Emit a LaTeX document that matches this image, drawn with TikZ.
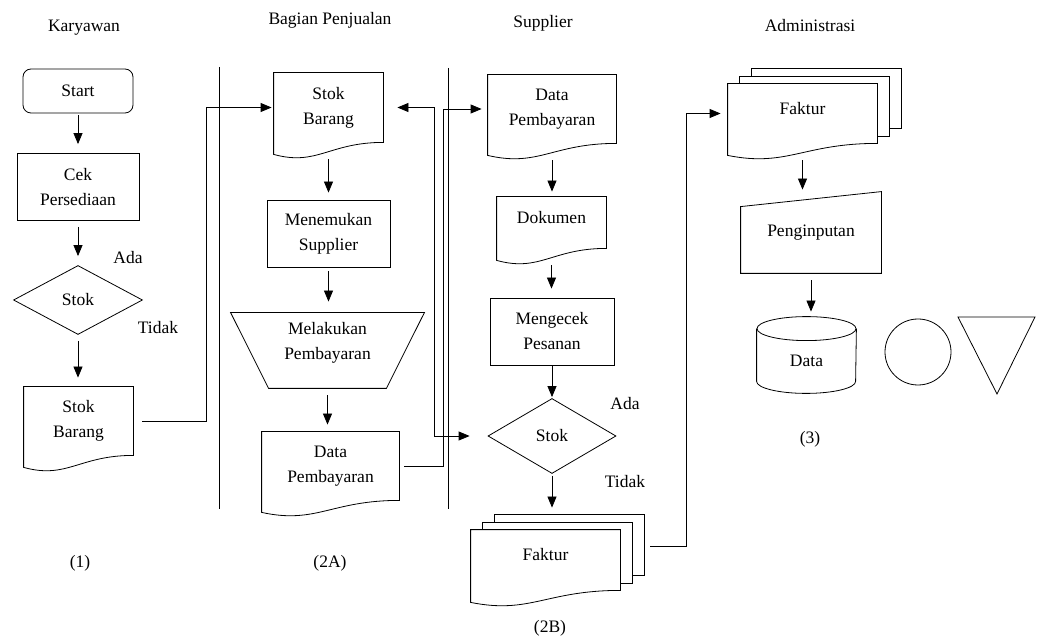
\documentclass[tikz,border=0pt]{standalone}
\usepackage{fontspec}
\setmainfont{Liberation Serif}
\usetikzlibrary{shapes.geometric, arrows.meta}

\tikzset{
	box/.style = {draw, rectangle, align=center, inner sep=0pt},
	docnode/.style = {rectangle, align=center, inner sep=0pt},
	decide/.style = {draw, diamond, inner sep=0pt},
	flow/.style = {->, shorten <=6pt, shorten >=9pt},
	fromdoc/.style = {shorten <=17pt}
}

% wavy sheet round node #1 of width #2
\newcommand{\docsheet}[2]{%
	\draw (#1.south east) .. controls +(-0.5*#2,0) and +(0.4*#2,-12) .. ([yshift=-12pt]#1.south west) -- (#1.north west) -- (#1.north east) -- cycle;}
% two more sheets behind node #1
\newcommand{\moresheets}[1]{%
	\draw ([xshift=12pt]#1.north west) |- ([shift={(12pt,7pt)}]#1.north east) |- ([yshift=7pt]#1.south east);
	\draw ([shift={(24pt,7pt)}]#1.north west) |- ([shift={(24pt,15pt)}]#1.north east) |- ([shift={(12pt,15pt)}]#1.south east);}

\begin{document}
\begin{tikzpicture}[x=1pt, y=1pt, line width=0.8pt, >={Triangle[width=9pt,length=11pt]}, font=\fontsize{17.5}{25}\selectfont]
	\useasboundingbox (0,0) rectangle (1037,638);
% lane titles
	\node (tKar) at (84,610) {Karyawan};
	\node (tBag) at (330,618) {Bagian Penjualan};
	\node (tSup) at (543,615) {Supplier};
	\node (tAdm) at (810,612) {Administrasi};
% lane lines
	\draw (219,571) -- (219,129);
	\draw (448,570) -- (448,129);

% Karyawan
	\node[box, rounded corners=8pt, minimum width=110pt, minimum height=44pt] (start) at (78,547) {Start};
	\node[box, minimum width=122pt, minimum height=67pt] (cek) at (78,451) {Cek\\Persediaan};
	\node[decide, minimum width=129pt, minimum height=69pt] (stok1) at (78,338) {Stok};
	\node (ada1) at (128,380) {Ada};
	\node (tidak1) at (158,310) {Tidak};
	\node[docnode, minimum width=109pt, minimum height=68pt] (barang1) at (78.5,217) {Stok\\Barang};
	\docsheet{barang1}{109}
	\node (lbl1) at (80,75) {(1)};

	\draw[flow, shorten <=2pt] (start.south) -- (start.south |- cek.north);
	\draw[flow] (cek.south) -- (cek.south |- stok1.north);
	\draw[flow] (stok1.south) -- (stok1.south |- barang1.north);

% Bagian Penjualan
	\node[docnode, minimum width=109pt, minimum height=69pt] (barang2) at (328.5,530.5) {Stok\\Barang};
	\docsheet{barang2}{109}
	\node[box, minimum width=123pt, minimum height=67pt] (cari) at (328.5,404.5) {Menemukan\\Supplier};
	\node[docnode, minimum width=193pt, minimum height=75pt, text depth=19pt] (bayar) at (327.5,287.5) {Melakukan\\Pembayaran};
	\draw (bayar.north west) -- (bayar.north east) -- ([xshift=-38pt]bayar.south east) -- ([xshift=38pt]bayar.south west) -- cycle;
	\node[docnode, minimum width=137pt, minimum height=68pt] (bayar2a) at (330.5,172) {Data\\Pembayaran};
	\docsheet{bayar2a}{137}
	\node (lbl2a) at (330,75) {(2A)};

	\draw[flow, fromdoc, shorten >=7pt] (barang2.south) -- (barang2.south |- cari.north);
	\draw[flow, shorten <=4pt, shorten >=11pt] (cari.south) -- (cari.south |- bayar.north);
	\draw[flow, shorten <=7pt, shorten >=7pt] (bayar.south) -- (bayar.south |- bayar2a.north);

% Supplier
	\node[docnode, minimum width=128pt, minimum height=68pt] (bayar2b) at (552,529) {Data\\Pembayaran};
	\docsheet{bayar2b}{128}
	\node[docnode, minimum width=109pt, minimum height=51pt, text depth=11pt] (dok) at (551.5,415.5) {Dokumen};
	\docsheet{dok}{109}
	\node[box, minimum width=124pt, minimum height=67pt] (cek2) at (552,306.5) {Mengecek\\Pesanan};
	\node[decide, minimum width=128pt, minimum height=75pt] (stok2) at (552,202) {Stok};
	\node (ada2) at (625,234) {Ada};
	\node (tidak2) at (625,156) {Tidak};
	\node[docnode, minimum width=149pt, minimum height=60pt, text depth=11pt] (faktur2) at (545.5,78) {Faktur};
	\docsheet{faktur2}{149}
	\moresheets{faktur2}
	\node (lbl2b) at (550,10) {(2B)};

	\draw[flow, fromdoc, shorten >=5pt] (bayar2b.south) -- (bayar2b.south |- dok.north);
	\draw[flow, fromdoc] (dok.south) -- (dok.south |- cek2.north);
	\draw[flow, shorten <=0pt, shorten >=1pt] (cek2.south) -- (cek2.south |- stok2.north);
	\draw[flow, shorten <=2pt, shorten >=22pt] (stok2.south) -- (stok2.south |- faktur2.north);

% Administrasi
	\node[docnode, minimum width=149pt, minimum height=59pt, text depth=11pt] (faktur3) at (802.5,524.5) {Faktur};
	\docsheet{faktur3}{149}
	\moresheets{faktur3}
	\node[docnode, minimum width=140pt, minimum height=81pt] (input) at (811,405.5) {Penginputan};
	\draw ([yshift=-15pt]input.north west) -- (input.north east) -- (input.south east) -- (input.south west) -- cycle;
	\node[docnode, minimum width=99pt, minimum height=76pt, text height=24pt] (db) at (806.5,283) {Data};
	\draw ([yshift=-12pt]db.north) ellipse [x radius=49.5, y radius=12];
	\draw ([yshift=-12pt]db.north west) -- ([yshift=12pt]db.south west) arc[start angle=180, end angle=360, x radius=49.5, y radius=12] -- ([yshift=-12pt]db.north east);
	\node[draw, circle, minimum size=66pt, inner sep=0pt] (conn) at (918,286) {};
	\draw (958,321) -- (1035,321) -- (997,244) -- cycle;
	\node (lbl3) at (810,199) {(3)};

	\draw[flow, fromdoc, shorten >=2pt] (faktur3.south) -- (faktur3.south |- input.north);
	\draw[flow, shorten <=7pt, shorten >=5pt] (input.south) -- (input.south |- db.north);

% lines between lanes
	\draw[flow, shorten <=9pt, shorten >=2pt] (barang1.east) -- ++(73,0) |- (barang2.west);
	\draw[<->, shorten <=14pt, shorten >=18pt] (barang2.east) -- ++(51,0) |- (stok2.west);
	\draw[flow, shorten <=5pt, shorten >=6pt] (bayar2a.east) -- ++(44,0) |- (bayar2b.west);
	\draw[flow, shorten <=0pt, shorten >=7pt] ([shift={(30pt,14pt)}]faktur2.east) -- ++(36,0) |- (faktur3.west);
\end{tikzpicture}
\end{document}
